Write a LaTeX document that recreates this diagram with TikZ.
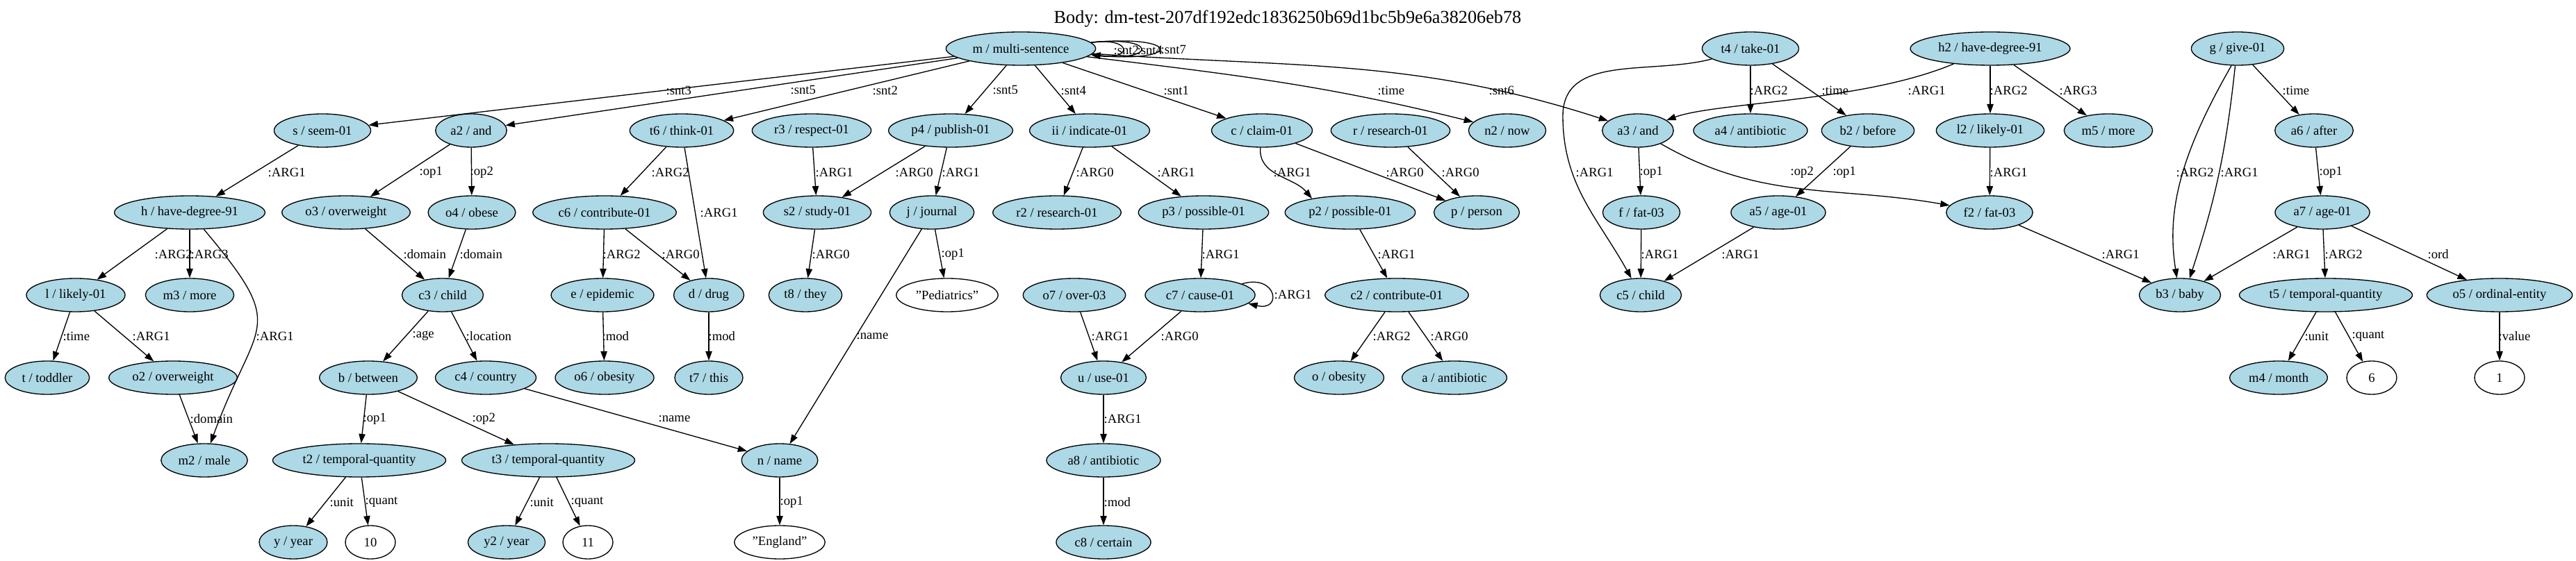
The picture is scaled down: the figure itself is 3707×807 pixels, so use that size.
\documentclass[tikz,border=0pt]{standalone}
\usepackage{fontspec}
\setmainfont{Liberation Serif}
\usetikzlibrary{arrows.meta,shapes.geometric}
\definecolor{lblue}{HTML}{ADD8E6}

\begin{document}
\begin{tikzpicture}
  [
   x=0.75pt,y=0.75pt,
   cn/.style={ellipse,draw,fill=lblue,line width=1pt,inner xsep=5pt,inner ysep=2pt,minimum width=54pt,minimum height=36pt,font=\fontsize{14}{16}\selectfont},
   wn/.style={ellipse,draw,fill=white,line width=1pt,inner xsep=5pt,inner ysep=2pt,minimum width=54pt,minimum height=36pt,font=\fontsize{14}{16}\selectfont},
   lb/.style={anchor=west,inner sep=0pt,font=\fontsize{14}{16}\selectfont},
   rel/.style={-{Triangle[length=10pt,width=7pt]},line width=1pt},
   ttl/.style={inner sep=0pt,font=\fontsize{19.7}{22}\selectfont}
  ]
   \useasboundingbox (0,0) rectangle (3707,807);
   \node[ttl] (title) at (1853,780) {Body: dm-test-207df192edc1836250b69d1bc5b9e6a38206eb78};

   \node[cn] (m)  at (1469,737) {m / multi-sentence};
   \node[cn] (t4) at (2519,737) {t4 / take-01};
   \node[cn] (h2) at (2864,737) {h2 / have-degree-91};
   \node[cn] (g)  at (3220,737) {g / give-01};

   \node[cn] (s)  at (464,619)  {s / seem-01};
   \node[cn] (a2) at (678,619)  {a2 / and};
   \node[cn] (t6) at (981,619)  {t6 / think-01};
   \node[cn] (r3) at (1168,619) {r3 / respect-01};
   \node[cn] (p4) at (1368,619) {p4 / publish-01};
   \node[cn] (ii) at (1568,619) {ii / indicate-01};
   \node[cn] (c)  at (1816,619) {c / claim-01};
   \node[cn] (r)  at (2001,619) {r / research-01};
   \node[cn] (n2) at (2169,619) {n2 / now};
   \node[cn] (a3) at (2357,619) {a3 / and};
   \node[cn] (a4) at (2519,619) {a4 / antibiotic};
   \node[cn] (b2) at (2688,619) {b2 / before};
   \node[cn] (l2) at (2864,619) {l2 / likely-01};
   \node[cn] (m5) at (3034,619) {m5 / more};
   \node[cn] (a6) at (3330,619) {a6 / after};

   \node[cn] (h)  at (273,501)  {h / have-degree-91};
   \node[cn] (o3) at (498,501)  {o3 / overweight};
   \node[cn] (o4) at (679,501)  {o4 / obese};
   \node[cn] (c6) at (870,501)  {c6 / contribute-01};
   \node[cn] (s2) at (1176,501) {s2 / study-01};
   \node[cn] (j)  at (1341,501) {j / journal};
   \node[cn] (r2) at (1521,501) {r2 / research-01};
   \node[cn] (p3) at (1732,501) {p3 / possible-01};
   \node[cn] (p2) at (1943,501) {p2 / possible-01};
   \node[cn] (p)  at (2125,501) {p / person};
   \node[cn] (f)  at (2362,501) {f / fat-03};
   \node[cn] (a5) at (2559,501) {a5 / age-01};
   \node[cn] (f2) at (2863,501) {f2 / fat-03};
   \node[cn] (a7) at (3342,501) {a7 / age-01};

   \node[cn] (l)    at (109,382)  {l / likely-01};
   \node[cn] (m3)   at (273,382)  {m3 / more};
   \node[cn] (c3)   at (637,382)  {c3 / child};
   \node[cn] (e)    at (867,382)  {e / epidemic};
   \node[cn] (d)    at (1020,382) {d / drug};
   \node[cn] (t8)   at (1159,382) {t8 / they};
   \node[wn] (xped) at (1363,382) {"Pediatrics"};
   \node[cn] (o7)   at (1546,382) {o7 / over-03};
   \node[cn] (c7)   at (1727,382) {c7 / cause-01};
   \node[cn] (c2)   at (2010,382) {c2 / contribute-01};
   \node[cn] (c5)   at (2361,382) {c5 / child};
   \node[cn] (b3)   at (3137,382) {b3 / baby};
   \node[cn] (t5)   at (3347,382) {t5 / temporal-quantity};
   \node[cn] (o5)   at (3597,382) {o5 / ordinal-entity};

   \node[cn] (t)  at (68,263)   {t / toddler};
   \node[cn] (o2) at (249,263)  {o2 / overweight};
   \node[cn] (b)  at (530,263)  {b / between};
   \node[cn] (c4) at (699,263)  {c4 / country};
   \node[cn] (o6) at (870,263)  {o6 / obesity};
   \node[cn] (t7) at (1020,263) {t7 / this};
   \node[cn] (u)  at (1588,263) {u / use-01};
   \node[cn] (o)  at (1927,263) {o / obesity};
   \node[cn] (a)  at (2093,263) {a / antibiotic};
   \node[cn] (m4) at (3279,263) {m4 / month};
   \node[wn] (x6) at (3413,263) {6};
   \node[wn] (x1) at (3597,263) {1};

   \node[cn] (m2) at (294,144)  {m2 / male};
   \node[cn] (t2) at (517,144)  {t2 / temporal-quantity};
   \node[cn] (t3) at (789,144)  {t3 / temporal-quantity};
   \node[cn] (n)  at (1122,144) {n / name};
   \node[cn] (a8) at (1588,144) {a8 / antibiotic};

   \node[cn] (y)    at (422,26)  {y / year};
   \node[wn] (x10)  at (533,26)  {10};
   \node[cn] (y2)   at (729,26)  {y2 / year};
   \node[wn] (x11)  at (846,26)  {11};
   \node[wn] (xeng) at (1122,26) {"England"};
   \node[cn] (c8)   at (1588,26) {c8 / certain};

   \draw[rel] (m) -- (s) node[lb] at (958,677) {:snt3};
   \draw[rel] (m) -- (a2) node[lb] at (1137,677) {:snt5};
   \draw[rel] (m) -- (t6) node[lb] at (1255,677) {:snt2};
   \draw[rel] (m) -- (p4) node[lb] at (1428,677) {:snt5};
   \draw[rel] (m) -- (ii) node[lb] at (1526,677) {:snt4};
   \draw[rel] (m) -- (c) node[lb] at (1674,677) {:snt1};
   \draw[rel] (m) to[out=-7,in=166] (n2) node[lb] at (1982,677) {:time};
   \draw[rel] (m) to[out=-4,in=162] (a3) node[lb] at (2142,677) {:snt6};
   \draw[rel] (m.5) .. controls +(60,8) and +(60,-8) .. (m.-5) node[lb] at (1602,735) {:snt2};
   \draw[rel] (m.5) .. controls +(95,10) and +(95,-10) .. (m.-5) node[lb] at (1636,735) {:snt4};
   \draw[rel] (m.5) .. controls +(130,12) and +(130,-12) .. (m.-5) node[lb] at (1670,735) {:snt7};

   \draw[rel] (t4) to[out=195,in=90] (2249,640) to[out=-90,in=119] (c5) node[lb] at (2267,559) {:ARG1};
   \draw[rel] (t4) -- (a4) node[lb] at (2518,677) {:ARG2};
   \draw[rel] (t4) -- (b2) node[lb] at (2621,677) {:time};
   \draw[rel] (h2) .. controls (2680,660) and (2470,660) .. (a3) node[lb] at (2745,677) {:ARG1};
   \draw[rel] (h2) -- (l2) node[lb] at (2863,677) {:ARG2};
   \draw[rel] (h2) -- (m5) node[lb] at (2963,677) {:ARG3};
   \draw[rel] (g.250) .. controls (3135,580) and (3118,500) .. (b3.100) node[lb] at (3131,559) {:ARG2};
   \draw[rel] (g.262) to[bend left=6] (b3.60) node[lb] at (3195,559) {:ARG1};
   \draw[rel] (g) -- (a6) node[lb] at (3284,677) {:time};

   \draw[rel] (s) -- (h) node[lb] at (385,559) {:ARG1};
   \draw[rel] (a2) -- (o3) node[lb] at (603,559) {:op1};
   \draw[rel] (a2) -- (o4) node[lb] at (676,559) {:op2};
   \draw[rel] (t6) -- (c6) node[lb] at (937,559) {:ARG2};
   \draw[rel] (t6) -- (d) node[lb] at (1007,501) {:ARG1};
   \draw[rel] (r3) -- (s2) node[lb] at (1173,559) {:ARG1};
   \draw[rel] (p4) -- (s2) node[lb] at (1288,559) {:ARG0};
   \draw[rel] (p4) -- (j) node[lb] at (1355,559) {:ARG1};
   \draw[rel] (ii) -- (r2) node[lb] at (1548,559) {:ARG0};
   \draw[rel] (ii) -- (p3) node[lb] at (1665,559) {:ARG1};
   \draw[rel] (c.265) to[out=-95,in=130] (p2.160) node[lb] at (1832,559) {:ARG1};
   \draw[rel] (c) -- (p) node[lb] at (1994,559) {:ARG0};
   \draw[rel] (r) -- (p) node[lb] at (2074,559) {:ARG0};
   \draw[rel] (a3) -- (f) node[lb] at (2359,559) {:op1};
   \draw[rel] (a3) to[out=-30,in=170] (f2) node[lb] at (2576,559) {:op2};
   \draw[rel] (b2) -- (a5) node[lb] at (2637,559) {:op1};
   \draw[rel] (l2) -- (f2) node[lb] at (2863,559) {:ARG1};
   \draw[rel] (a6) -- (a7) node[lb] at (3337,559) {:op1};

   \draw[rel] (h) -- (l) node[lb] at (222,441) {:ARG2};
   \draw[rel] (h) -- (m3) node[lb] at (274,441) {:ARG3};
   \draw[rel] (h) to[out=-50,in=70,looseness=1.6] (m2) node[lb] at (368,323) {:ARG1};
   \draw[rel] (o3) -- (c3) node[lb] at (580,441) {:domain};
   \draw[rel] (o4) -- (c3) node[lb] at (661,441) {:domain};
   \draw[rel] (c6) -- (e) node[lb] at (867,441) {:ARG2};
   \draw[rel] (c6) -- (d) node[lb] at (952,441) {:ARG0};
   \draw[rel] (s2) -- (t8) node[lb] at (1168,441) {:ARG0};
   \draw[rel] (j) -- (xped) node[lb] at (1354,441) {:op1};
   \draw[rel] (j) -- (n) node[lb] at (1232,323) {:name};
   \draw[rel] (p3) -- (c7) node[lb] at (1729,441) {:ARG1};
   \draw[rel] (p2) -- (c2) node[lb] at (1982,441) {:ARG1};
   \draw[rel] (f) -- (c5) node[lb] at (2361,441) {:ARG1};
   \draw[rel] (a5) -- (c5) node[lb] at (2477,441) {:ARG1};
   \draw[rel] (f2) -- (b3) node[lb] at (3024,441) {:ARG1};
   \draw[rel] (a7) -- (b3) node[lb] at (3270,441) {:ARG1};
   \draw[rel] (a7) -- (t5) node[lb] at (3345,441) {:ARG2};
   \draw[rel] (a7) -- (o5) node[lb] at (3493,441) {:ord};

   \draw[rel] (l) -- (t) node[lb] at (90,323) {:time};
   \draw[rel] (l) -- (o2) node[lb] at (190,323) {:ARG1};
   \draw[rel] (c3) -- (b) node[lb] at (593,323) {:age};
   \draw[rel] (c3) -- (c4) node[lb] at (670,323) {:location};
   \draw[rel] (e) -- (o6) node[lb] at (866,323) {:mod};
   \draw[rel] (d) -- (t7) node[lb] at (1019,323) {:mod};
   \draw[rel] (o7) -- (u) node[lb] at (1570,323) {:ARG1};
   \draw[rel] (c7) -- (u) node[lb] at (1670,323) {:ARG0};
   \draw[rel] (c7.15) .. controls +(50,15) and +(50,-12) .. (c7.-10) node[lb] at (1833,383) {:ARG1};
   \draw[rel] (c2) -- (o) node[lb] at (1975,323) {:ARG2};
   \draw[rel] (c2) -- (a) node[lb] at (2058,323) {:ARG0};
   \draw[rel] (t5) -- (m4) node[lb] at (3316,323) {:unit};
   \draw[rel] (t5) -- (x6) node[lb] at (3384,323) {:quant};
   \draw[rel] (o5) -- (x1) node[lb] at (3595,323) {:value};

   \draw[rel] (o2) -- (m2) node[lb] at (273,204) {:domain};
   \draw[rel] (b) -- (t2) node[lb] at (522,204) {:op1};
   \draw[rel] (b) -- (t3) node[lb] at (679,204) {:op2};
   \draw[rel] (c4) -- (n) node[lb] at (947,204) {:name};
   \draw[rel] (u) -- (a8) node[lb] at (1588,204) {:ARG1};

   \draw[rel] (t2) -- (y) node[lb] at (474,84) {:unit};
   \draw[rel] (t2) -- (x10) node[lb] at (525,84) {:quant};
   \draw[rel] (t3) -- (y2) node[lb] at (762,84) {:unit};
   \draw[rel] (t3) -- (x11) node[lb] at (821,84) {:quant};
   \draw[rel] (n) -- (xeng) node[lb] at (1122,84) {:op1};
   \draw[rel] (a8) -- (c8) node[lb] at (1588,84) {:mod};

\end{tikzpicture}
\end{document}
